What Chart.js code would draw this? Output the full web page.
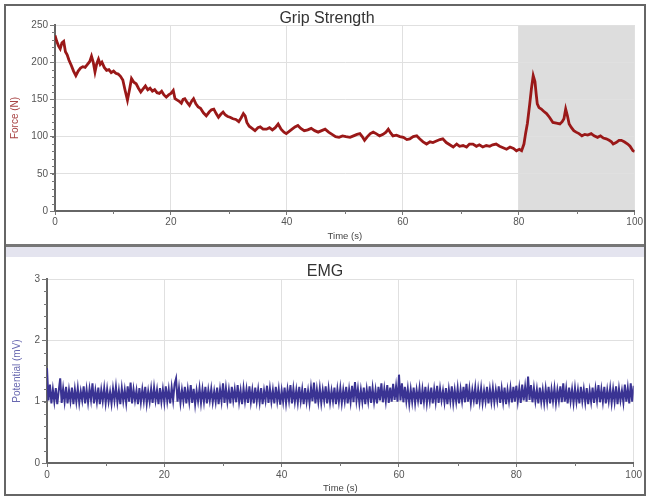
<!DOCTYPE html>
<html>
<head>
<meta charset="utf-8">
<script src="https://cdn.jsdelivr.net/npm/chart.js@4.4.0/dist/chart.umd.min.js"></script>
<style>
  body { margin: 0; background: #fff; }
  #frame { position: absolute; left: 4px; top: 4px; width: 638px; height: 488px; border: 2px solid #666; }
  #gripWrap { position: absolute; left: 0; top: 0; width: 638px; height: 238px; }
  #sep { position: absolute; left: 0; top: 238px; width: 638px; height: 3px; background: #777; }
  #strip { position: absolute; left: 0; top: 241px; width: 638px; height: 10px; background: #e4e4ef; }
  #emgWrap { position: absolute; left: 0; top: 251px; width: 638px; height: 237px; }
  canvas { display: block; }
</style>
</head>
<body>
<div id="frame">
  <div id="gripWrap"><canvas id="grip" width="638" height="238"></canvas></div>
  <div id="sep"></div>
  <div id="strip"></div>
  <div id="emgWrap"><canvas id="emg" width="638" height="237"></canvas></div>
</div>
<script>
// Grip strength (N), time in seconds
const gripTime = [
  0, 0.3, 0.6, 0.9, 1.2, 1.5, 1.8, 2.1, 2.4, 2.8, 3.2, 3.6, 4.0, 4.4, 4.8, 5.2, 5.6, 6.0, 6.3, 6.6,
  6.9, 7.2, 7.5, 7.8, 8.1, 8.5, 8.9, 9.3, 9.7, 10.1, 10.5, 10.9, 11.3, 11.7, 12.1, 12.5, 12.9, 13.2, 13.6, 14.0,
  14.4, 14.8, 15.2, 15.6, 16.0, 16.4, 16.8, 17.2, 17.6, 18.0, 18.4, 18.8, 19.2, 19.6, 20.0, 20.4, 20.7, 21.1, 21.5, 21.8,
  22.1, 22.4, 22.8, 23.2, 23.6, 23.9, 24.3, 24.7, 25.1, 25.6, 26.1, 26.6, 27.0, 27.4, 27.8, 28.2, 28.6, 29.0, 29.4, 29.8,
  30.2, 30.7, 31.2, 31.7, 32.1, 32.5, 32.8, 33.1, 33.5, 34.0, 34.5, 35.0, 35.4, 35.9, 36.5, 37.0, 37.5, 38.0, 38.5, 39.0,
  39.5, 39.9, 40.4, 40.9, 41.4, 41.9, 42.4, 43.0, 43.6, 44.2, 44.8, 45.4, 46.0, 46.6, 47.2, 47.8, 48.4, 49.0, 49.6, 50.2,
  50.9, 51.5, 52.1, 52.6, 53.0, 53.4, 53.9, 54.4, 54.9, 55.4, 56.0, 56.6, 57.1, 57.5, 57.9, 58.3, 58.9, 59.5, 60.1, 60.7,
  61.2, 61.8, 62.4, 62.9, 63.5, 64.1, 64.7, 65.2, 65.8, 66.4, 66.9, 67.5, 68.1, 68.7, 69.3, 69.8, 70.4, 71.0, 71.5, 72.1,
  72.7, 73.2, 73.8, 74.4, 75.0, 75.5, 76.1, 76.7, 77.3, 77.9, 78.5, 79.1, 79.6, 80.1, 80.5, 80.9, 81.2, 81.5, 81.9, 82.2,
  82.5, 82.8, 83.0, 83.2, 83.5, 83.9, 84.3, 84.8, 85.3, 85.9, 86.5, 87.1, 87.5, 87.8, 88.1, 88.4, 88.7, 89.1, 89.5, 89.9,
  90.4, 90.9, 91.4, 91.9, 92.5, 93.0, 93.6, 94.1, 94.6, 95.1, 95.6, 96.0, 96.3, 96.8, 97.3, 97.7, 98.2, 98.8, 99.2, 99.7,
  100
];
const gripForce = [
  236, 228, 222, 218, 226, 228, 214, 210, 203, 196, 188, 182, 188, 192, 194, 193, 197, 201, 208, 200,
  187, 198, 204, 197, 200, 193, 189, 190, 186, 188, 185, 184, 181, 176, 162, 149, 165, 178, 173, 171,
  165, 160, 164, 168, 163, 165, 161, 163, 159, 158, 161, 156, 153, 156, 158, 162, 151, 149, 147, 145,
  150, 151, 146, 142, 148, 151, 144, 140, 138, 132, 128, 133, 136, 137, 131, 126, 130, 133, 129, 127,
  126, 124, 123, 120, 125, 131, 128, 119, 114, 111, 108, 112, 113, 110, 110, 112, 109, 112, 117, 110,
  106, 104, 107, 110, 113, 115, 111, 108, 109, 111, 108, 106, 108, 110, 106, 103, 100, 99, 101, 100,
  99, 101, 103, 104, 100, 95, 100, 104, 106, 104, 101, 103, 106, 110, 105, 101, 102, 100, 99, 96,
  97, 100, 101, 97, 93, 90, 93, 92, 94, 96, 97, 92, 89, 86, 90, 87, 88, 86, 90, 90,
  87, 89, 86, 88, 87, 89, 90, 87, 85, 83, 86, 84, 81, 83, 81, 90, 105, 118, 144, 165,
  182, 174, 158, 144, 139, 137, 134, 131, 126, 119, 118, 117, 120, 124, 137, 128, 117, 112, 108, 106,
  104, 101, 103, 102, 104, 101, 99, 101, 98, 97, 95, 93, 90, 92, 95, 95, 93, 90, 87, 81,
  80
];

// EMG potential (mV), one sample every 0.25 s
const emgStep = 0.25;
const emgValues = [
  1.55, 1.02, 1.28, 0.97, 1.2, 1.0, 1.22, 0.96, 1.18, 1.38, 0.98, 1.21, 1.0, 1.24, 0.97, 1.19, 1.01, 1.23, 0.96, 1.2,
  1.0, 1.22, 0.98, 1.17, 1.02, 1.25, 0.97, 1.2, 0.99, 1.21, 1.03, 1.3, 0.97, 1.18, 1.0, 1.23, 0.96, 1.19, 1.01, 1.22,
  0.98, 1.2, 1.0, 1.16, 0.97, 1.21, 1.02, 1.24, 0.99, 1.18, 0.96, 1.22, 1.01, 1.19, 0.98, 1.25, 1.0, 1.31, 0.97, 1.2,
  1.02, 1.18, 0.96, 1.22, 0.99, 1.2, 1.01, 1.24, 0.97, 1.17, 1.0, 1.21, 0.98, 1.23, 1.02, 1.19, 0.96, 1.22, 1.0, 1.2,
  0.99, 1.25, 1.01, 1.2, 0.97, 1.23, 1.02, 1.29, 1.38, 1.0, 1.22, 0.98, 1.19, 1.01, 1.24, 0.97, 1.2, 1.0, 1.27, 0.98,
  1.21, 0.96, 1.18, 1.01, 1.22, 0.98, 1.2, 1.0, 1.24, 0.97, 1.19, 1.02, 1.21, 0.99, 1.17, 1.0, 1.23, 0.96, 1.2, 1.01,
  1.3, 0.98, 1.22, 1.0, 1.19, 0.97, 1.24, 1.02, 1.2, 0.99, 1.27, 1.0, 1.18, 0.96, 1.22, 1.01, 1.2, 0.98, 1.25, 1.0,
  1.19, 0.97, 1.23, 1.01, 1.2, 0.99, 1.22, 0.96, 1.18, 1.02, 1.26, 0.98, 1.21, 1.0, 1.19, 0.97, 1.24, 1.01, 1.2, 0.95,
  1.18, 1.0, 1.23, 0.98, 1.2, 1.02, 1.27, 0.97, 1.21, 1.0, 1.19, 0.99, 1.24, 1.01, 1.2, 0.96, 1.22, 1.0, 1.18, 0.98,
  1.23, 1.01, 1.31, 0.97, 1.2, 1.0, 1.22, 0.98, 1.19, 1.02, 1.25, 0.97, 1.21, 0.99, 1.18, 1.01, 1.23, 0.96, 1.2, 1.0,
  1.22, 0.98, 1.19, 1.01, 1.24, 0.97, 1.2, 1.0, 1.26, 0.99, 1.32, 1.02, 1.21, 0.98, 1.19, 1.0, 1.23, 0.96, 1.2, 1.01,
  1.25, 0.98, 1.22, 1.0, 1.19, 0.97, 1.24, 1.02, 1.3, 0.99, 1.21, 1.01, 1.27, 0.98, 1.23, 1.0, 1.29, 1.03, 1.25, 1.0,
  1.44, 1.02, 1.3, 0.99, 1.24, 1.01, 1.21, 0.97, 1.2, 1.0, 1.23, 0.98, 1.19, 1.02, 1.22, 0.96, 1.2, 1.0, 1.24, 0.98,
  1.19, 1.01, 1.23, 0.97, 1.2, 1.0, 1.26, 0.98, 1.21, 1.02, 1.18, 0.99, 1.22, 0.96, 1.2, 1.01, 1.25, 0.98, 1.19, 1.0,
  1.22, 0.97, 1.2, 1.01, 1.24, 0.99, 1.29, 1.0, 1.21, 0.98, 1.19, 1.02, 1.23, 0.96, 1.2, 1.0, 1.22, 0.98, 1.18, 1.01,
  1.24, 0.97, 1.2, 1.0, 1.22, 0.99, 1.19, 1.02, 1.25, 0.98, 1.21, 1.0, 1.23, 0.96, 1.19, 1.01, 1.22, 0.99, 1.24, 1.0,
  1.26, 1.01, 1.22, 0.98, 1.28, 1.02, 1.24, 1.0, 1.41, 1.03, 1.27, 0.99, 1.22, 1.01, 1.2, 0.97, 1.23, 1.0, 1.19, 0.98,
  1.21, 1.0, 1.24, 0.97, 1.2, 1.01, 1.22, 0.98, 1.19, 1.02, 1.25, 0.99, 1.3, 1.0, 1.21, 0.97, 1.23, 1.01, 1.2, 0.98,
  1.22, 1.0, 1.19, 0.97, 1.24, 1.01, 1.2, 0.99, 1.22, 0.96, 1.18, 1.0, 1.23, 0.98, 1.21, 1.02, 1.27, 0.99, 1.2, 1.0,
  1.24, 0.97, 1.19, 1.01, 1.22, 0.98, 1.2, 1.0, 1.25, 0.96, 1.21, 1.02, 1.18, 0.99, 1.28, 1.0, 1.22, 0.97, 1.3, 1.0,
  1.26
];

// Shaded selection on the grip chart (seconds)
const gripShade = [80, 100];

const FONT = '"Liberation Sans", Arial, sans-serif';

// Panel title drawn at a fixed spot above the plot
const panelTitle = {
  id: 'panelTitle',
  afterDraw(chart, args, opts) {
    const ctx = chart.ctx;
    ctx.save();
    ctx.font = '16px ' + FONT;
    ctx.fillStyle = '#333';
    ctx.textAlign = 'center';
    ctx.textBaseline = 'middle';
    ctx.fillText(opts.text, opts.x, opts.y);
    ctx.restore();
  }
};

// Grey band behind the grid
const shade = {
  id: 'shade',
  beforeDraw(chart, args, opts) {
    if (!opts.range) return;
    const { ctx, chartArea, scales } = chart;
    const x0 = scales.x.getPixelForValue(opts.range[0]);
    const x1 = scales.x.getPixelForValue(opts.range[1]);
    ctx.save();
    ctx.fillStyle = '#dddddd';
    ctx.fillRect(x0, chartArea.top, x1 - x0, chartArea.bottom - chartArea.top);
    ctx.restore();
  }
};

// Small unlabeled ticks between the major ones
const minorTicks = {
  id: 'minorTicks',
  afterDraw(chart, args, opts) {
    const { ctx, chartArea, scales } = chart;
    ctx.save();
    ctx.strokeStyle = '#777';
    ctx.lineWidth = 1;
    ctx.beginPath();
    const ys = scales.y;
    for (let v = ys.min; v <= ys.max + 1e-9; v += opts.y) {
      const p = Math.round(ys.getPixelForValue(v)) + 0.5;
      ctx.moveTo(chartArea.left - 3, p);
      ctx.lineTo(chartArea.left, p);
    }
    const xs = scales.x;
    for (let v = xs.min + opts.x; v < xs.max; v += opts.x * 2) {
      const p = Math.round(xs.getPixelForValue(v)) + 0.5;
      ctx.moveTo(p, chartArea.bottom);
      ctx.lineTo(p, chartArea.bottom + 3);
    }
    ctx.stroke();
    ctx.restore();
  }
};

function makeChart(id, cfg) {
  return new Chart(document.getElementById(id), {
    type: 'line',
    data: {
      datasets: [{
        data: cfg.points,
        borderColor: cfg.color,
        borderWidth: cfg.lineWidth,
        pointRadius: 0,
        tension: 0,
        fill: false
      }]
    },
    plugins: [panelTitle, shade, minorTicks],
    options: {
      responsive: false,
      animation: false,
      layout: { padding: { left: 0, top: cfg.padTop, right: cfg.padRight, bottom: 0 } },
      scales: {
        x: {
          type: 'linear',
          min: 0, max: 100,
          afterFit: (s) => { s.height = cfg.xHeight; },
          grid: { color: '#e0e0e0', tickColor: '#777', tickLength: 4 },
          border: { color: '#666', width: 2 },
          ticks: { stepSize: 20, padding: cfg.xPad, color: '#555', font: { family: FONT, size: 10 } },
          title: {
            display: true, text: 'Time (s)', color: '#444',
            font: { family: FONT, size: 9.5 }, padding: { top: 0, bottom: cfg.xTitlePad }
          }
        },
        y: {
          min: cfg.yMin, max: cfg.yMax,
          afterFit: (s) => { s.width = cfg.yWidth; },
          grid: { color: '#e0e0e0', tickColor: '#777', tickLength: 5 },
          border: { color: '#666', width: 2 },
          ticks: { stepSize: cfg.yStep, padding: 2, color: '#555', font: { family: FONT, size: 10 } },
          title: {
            display: true, text: cfg.yTitle, color: cfg.yTitleColor,
            font: { family: FONT, size: 10 }, padding: { top: cfg.yTitlePad, bottom: 0 }
          }
        }
      },
      plugins: {
        legend: { display: false },
        tooltip: { enabled: false },
        panelTitle: { text: cfg.title, x: cfg.titleX, y: cfg.titleY },
        shade: { range: cfg.shade },
        minorTicks: { x: 10, y: cfg.yMinor }
      }
    }
  });
}

makeChart('grip', {
  points: gripTime.map((t, i) => ({ x: t, y: gripForce[i] })),
  color: '#9a1818', lineWidth: 2.8,
  title: 'Grip Strength', titleX: 321, titleY: 13,
  padTop: 19, padRight: 8, xHeight: 33, yWidth: 49,
  xPad: 1, xTitlePad: 2, yTitlePad: 3,
  yMin: 0, yMax: 250, yStep: 50, yMinor: 10,
  yTitle: 'Force (N)', yTitleColor: '#a84444',
  shade: gripShade
});

makeChart('emg', {
  points: emgValues.map((v, i) => ({ x: i * emgStep, y: v })),
  color: '#3a3393', lineWidth: 2,
  title: 'EMG', titleX: 319, titleY: 15,
  padTop: 22, padRight: 6, xHeight: 31, yWidth: 41,
  xPad: 2, xTitlePad: 0, yTitlePad: 5,
  yMin: 0, yMax: 3, yStep: 1, yMinor: 0.2,
  yTitle: 'Potential (mV)', yTitleColor: '#6868b0',
  shade: null
});
</script>
</body>
</html>
